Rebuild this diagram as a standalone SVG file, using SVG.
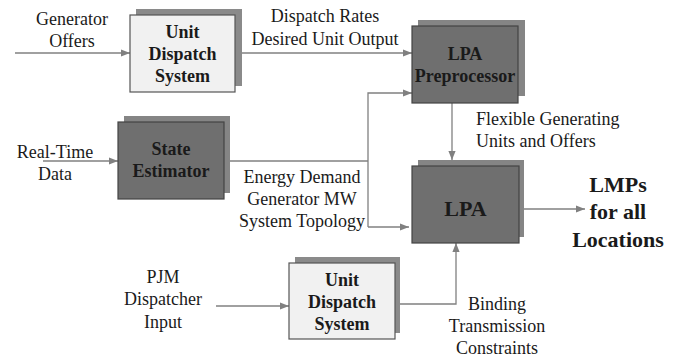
<svg xmlns="http://www.w3.org/2000/svg" width="676" height="360" viewBox="0 0 676 360">
<style>
text{fill:#1a1a1a}
.lbl{font-size:18px;text-anchor:middle}
.lbll{font-size:18px}
.bx{font-size:18px;font-weight:bold;text-anchor:middle}
.big{font-size:22px;font-weight:bold;text-anchor:middle}
.light{fill:#f1f1f1;stroke:#555;stroke-width:1.2}
.lsh{fill:#8a8a8a}
.dark{fill:#6f6f6f;stroke:#444;stroke-width:1.2}
.dsh{fill:#858585}
.ln{fill:none;stroke:#808080;stroke-width:1.3}
</style>
<defs>
<marker id="ah" viewBox="0 0 10 10" refX="10" refY="5" markerWidth="9" markerHeight="9" markerUnits="userSpaceOnUse" orient="auto">
<path d="M0,1 L10,5 L0,9 Z" fill="#808080"/>
</marker>
</defs>
<rect width="676" height="360" fill="#fff"/>
<g id="connectors">
<line class="ln" x1="15" y1="53" x2="130" y2="53" marker-end="url(#ah)"/>
<line class="ln" x1="235" y1="53" x2="412" y2="53" marker-end="url(#ah)"/>
<polyline class="ln" points="230,161 368,161"/>
<polyline class="ln" points="368,227 368,93 412,93" marker-end="url(#ah)"/>
<polyline class="ln" points="368,227 409,227" marker-end="url(#ah)"/>
<line class="ln" x1="43" y1="161" x2="118" y2="161" marker-end="url(#ah)"/>
<line class="ln" x1="452" y1="103" x2="452" y2="160" marker-end="url(#ah)"/>
<line class="ln" x1="519" y1="209" x2="585" y2="209" marker-end="url(#ah)"/>
<line class="ln" x1="216" y1="306" x2="289" y2="306" marker-end="url(#ah)"/>
<polyline class="ln" points="395,304 456,304 456,243" marker-end="url(#ah)"/>
</g>
<g font-family="'Liberation Serif', 'Times New Roman', 'DejaVu Serif', serif">
<g id="uds1">
<rect class="lsh" x="136" y="9" width="106" height="77"/>
<rect class="light" x="130" y="15" width="105" height="77"/>
<text class="bx" x="182.5" y="38">Unit</text>
<text class="bx" x="182.5" y="60">Dispatch</text>
<text class="bx" x="182.5" y="82">System</text>
</g>
<g id="preproc">
<rect class="dsh" x="418" y="20" width="107" height="76"/>
<rect class="dark" x="412" y="26" width="106" height="77"/>
<text class="bx" x="465" y="60">LPA</text>
<text class="bx" x="465" y="82">Preprocessor</text>
</g>
<g id="stateest">
<rect class="dsh" x="124" y="116" width="106" height="77"/>
<rect class="dark" x="118" y="122" width="106" height="77"/>
<text class="bx" x="171" y="155">State</text>
<text class="bx" x="171" y="177">Estimator</text>
</g>
<g id="lpa">
<rect class="dsh" x="418" y="160" width="106" height="77"/>
<rect class="dark" x="412" y="166" width="107" height="77"/>
<text class="big" x="465.5" y="216">LPA</text>
</g>
<g id="uds2">
<rect class="lsh" x="295" y="257" width="105" height="76"/>
<rect class="light" x="289" y="263" width="106" height="76"/>
<text class="bx" x="342" y="286">Unit</text>
<text class="bx" x="342" y="308">Dispatch</text>
<text class="bx" x="342" y="330">System</text>
</g>
<g id="labels">
<text class="lbl" x="72" y="25">Generator</text>
<text class="lbl" x="72" y="47">Offers</text>
<text class="lbl" x="325" y="22">Dispatch Rates</text>
<text class="lbl" x="325" y="45">Desired Unit Output</text>
<text class="lbl" x="55" y="158">Real-Time</text>
<text class="lbl" x="55" y="180">Data</text>
<text class="lbl" x="302" y="183">Energy Demand</text>
<text class="lbl" x="302" y="205">Generator MW</text>
<text class="lbl" x="302" y="227">System Topology</text>
<text class="lbll" x="476" y="125">Flexible Generating</text>
<text class="lbll" x="476" y="147">Units and Offers</text>
<text class="big" x="618" y="192">LMPs</text>
<text class="big" x="618" y="219">for all</text>
<text class="big" x="618" y="247">Locations</text>
<text class="lbl" x="163" y="283">PJM</text>
<text class="lbl" x="163" y="305">Dispatcher</text>
<text class="lbl" x="163" y="328">Input</text>
<text class="lbl" x="497" y="310">Binding</text>
<text class="lbl" x="497" y="332">Transmission</text>
<text class="lbl" x="497" y="354">Constraints</text>
</g>
</g>
</svg>
